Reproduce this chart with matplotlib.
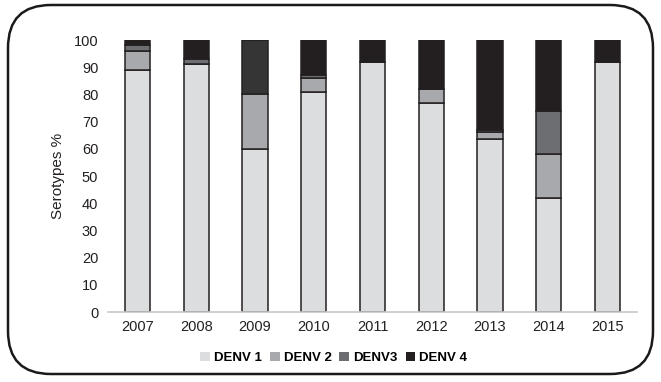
import matplotlib
matplotlib.use("Agg")
import matplotlib.pyplot as plt
from matplotlib.patches import FancyBboxPatch
import numpy as np

years = ["2007", "2008", "2009", "2010", "2011", "2012", "2013", "2014", "2015"]
denv1 = [89, 91, 60, 81, 92, 77, 63.5, 42, 92]
denv2 = [7, 0, 20, 5, 0, 5, 2.5, 16, 0]
denv3 = [2, 2, 20, 1, 0, 0, 1, 16, 0]
denv4 = [2, 7, 0, 13, 8, 18, 33, 26, 8]
series_names = ["DENV 1", "DENV 2", "DENV3", "DENV 4"]

colors = ["#dcdddf", "#a7a9ac", "#6d6e71", "#231f20"]
edge = "#231f20"

plt.rcParams["font.family"] = ["Liberation Sans", "DejaVu Sans"]

fig = plt.figure(figsize=(6.61, 3.82), dpi=100)
W, H = 661, 382

# rounded outer frame
frame = FancyBboxPatch((8 / W, 8 / H), (653 - 8) / W, (377 - 8) / H,
                       boxstyle="round,pad=0,rounding_size=0.065",
                       transform=fig.transFigure, fill=False,
                       edgecolor="#1a1a1a", linewidth=1.8,
                       mutation_aspect=W / H)
fig.patches.append(frame)

ax = fig.add_axes([108 / W, 1 - 312 / H, (637 - 108) / W, (312 - 40) / H])

x = np.arange(len(years))
width = 0.43
bottom = np.zeros(len(years))
data = [denv1, denv2, denv3, denv4]
for i, (vals, name) in enumerate(zip(data, series_names)):
    vals = np.array(vals, dtype=float)
    fc = [colors[i]] * len(years)
    if i == 2:
        fc[2] = "#353535"
    ax.bar(x, vals, width, bottom=bottom, color=fc, edgecolor=edge,
           linewidth=1.1, label=name, zorder=2)
    bottom += vals

ax.set_xlim(-0.5, len(years) - 0.5)
ax.set_ylim(0, 100)
ax.set_yticks(range(0, 101, 10))
ax.set_xticks(x)
ax.set_xticklabels(years)
ax.tick_params(axis="both", length=0, labelsize=10.5, colors="#231f20")
ax.tick_params(axis="y", pad=7)
ax.tick_params(axis="x", pad=6)
for s in ["top", "right", "left"]:
    ax.spines[s].set_visible(False)
ax.spines["bottom"].set_color("#c8c8c8")
ax.spines["bottom"].set_linewidth(1.2)
ax.set_ylabel("Serotypes %", fontsize=11, color="#231f20", labelpad=6)

handles = [plt.Rectangle((0, 0), 1, 1, facecolor=c, edgecolor="none") for c in colors]
fig.legend(handles, series_names, loc="center", bbox_to_anchor=(0.505, 1 - 358 / H),
           ncol=4, frameon=False, handlelength=0.75, handleheight=0.75,
           handletextpad=0.3, columnspacing=0.6,
           prop={"weight": "bold", "size": 9.5})

fig.savefig("out.png", dpi=100)
